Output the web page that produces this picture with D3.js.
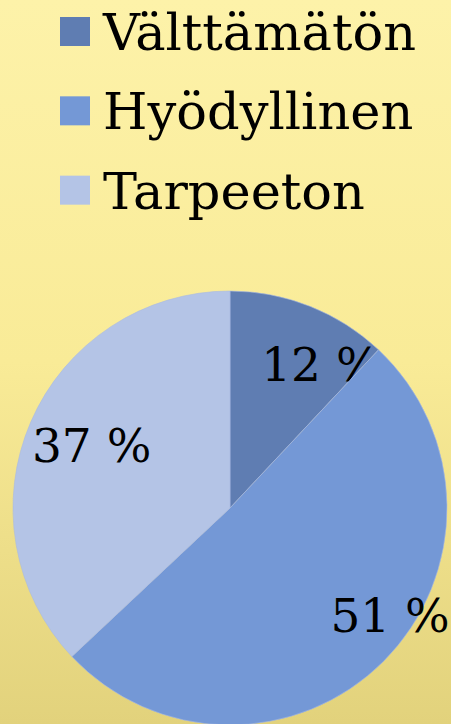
<!DOCTYPE html>
<html lang="en">
<head>
  <meta charset="UTF-8">
  <title>Pie</title>
  <style type="text/css">
    body{
      margin: 0;
      background: #fdf2a8;
    }
    text{
      font-family: "DejaVu Serif", serif;
      fill: black;
    }
  </style>
  <script type="text/javascript" src="https://d3js.org/d3.v7.min.js"></script>
</head>
<body>
<script type="text/javascript">
  var categories = ['Välttämätön', 'Hyödyllinen', 'Tarpeeton'];
  var values = [12, 51, 37];
  var colors = ['#5f7db2', '#7498d6', '#b4c4e6'];

  var width = 451;
  var height = 724;
  var cx = 230, cy = 508, radius = 217;
  var legendFont = 51;
  var labelFont = 47;

  // label nudges, the slices are placed by PowerPoint-like "best fit"
  var nudge = [[31, 7], [45, -8], [11, 2]];

  var svg = d3.select('body')
    .append('svg')
    .attr('width', width)
    .attr('height', height);

  var grad = svg.append('defs').append('linearGradient')
    .attr('id', 'bg')
    .attr('x1', 0).attr('y1', 0).attr('x2', 0).attr('y2', 1);
  grad.append('stop').attr('offset', '0%').attr('stop-color', '#fdf2a9');
  grad.append('stop').attr('offset', '50%').attr('stop-color', '#f9eb97');
  grad.append('stop').attr('offset', '100%').attr('stop-color', '#e2d27c');

  svg.append('rect')
    .attr('width', width)
    .attr('height', height)
    .attr('fill', 'url(#bg)');

  var color = d3.scaleOrdinal()
    .domain(categories)
    .range(colors);

  var data = categories.map(function(c, i){ return {name: c, value: values[i]}; });

  var pie = d3.pie()
    .sort(null)
    .value(function(d){ return d.value; });

  var arc = d3.arc()
    .innerRadius(0)
    .outerRadius(radius);

  var labelArc = d3.arc()
    .innerRadius(radius * 0.75)
    .outerRadius(radius * 0.75);

  var g = svg.append('g')
    .attr('transform', 'translate(' + cx + ',' + cy + ')');

  var slices = g.selectAll('.slice')
    .data(pie(data))
    .enter().append('g')
    .attr('class', 'slice');

  slices.append('path')
    .attr('d', arc)
    .attr('fill', function(d){ return color(d.data.name); })
    .attr('stroke', '#a9bbe0')
    .attr('stroke-width', 0.6);

  slices.append('text')
    .attr('transform', function(d, i){
      var c = labelArc.centroid(d);
      return 'translate(' + (c[0] + nudge[i][0]) + ',' + (c[1] + nudge[i][1]) + ')';
    })
    .attr('text-anchor', 'middle')
    .attr('dy', '0.36em')
    .style('font-size', labelFont + 'px')
    .text(function(d){ return d.data.value + ' %'; });

  var legendY = d3.scaleBand()
    .domain(categories)
    .range([0, 238]);

  var legend = svg.selectAll('.legend')
    .data(categories)
    .enter().append('g')
    .attr('class', 'legend')
    .attr('transform', function(d){ return 'translate(60,' + (legendY(d) + 17) + ')'; });

  legend.append('rect')
    .attr('width', 30)
    .attr('height', 29)
    .attr('fill', color);

  legend.append('text')
    .attr('x', 43)
    .attr('y', 33)
    .style('font-size', legendFont + 'px')
    .text(function(d){ return d; });
</script>
</body>
</html>
